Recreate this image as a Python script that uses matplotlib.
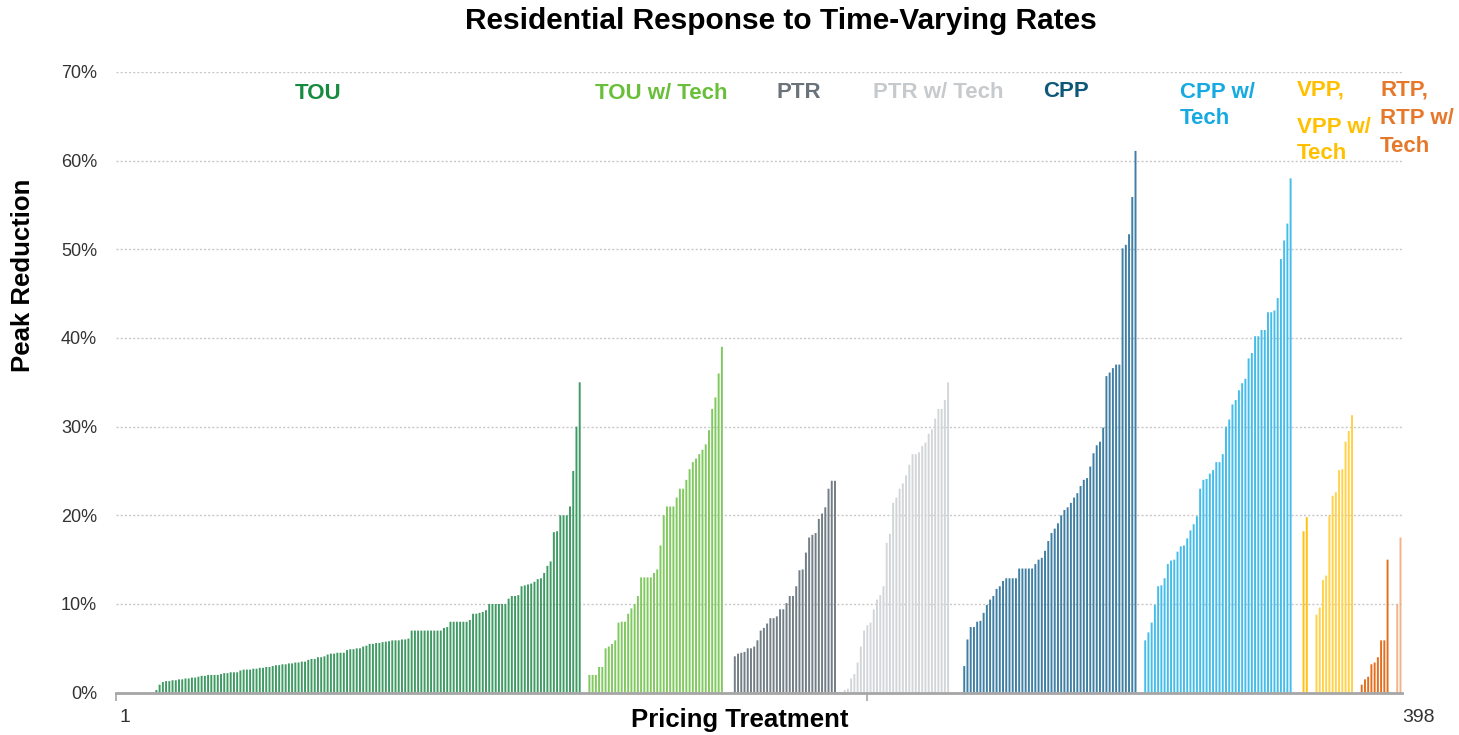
import matplotlib
matplotlib.use("Agg")
import matplotlib.pyplot as plt
import matplotlib.transforms as mtransforms
import numpy as np

plt.rcParams['font.family'] = ['Liberation Sans', 'DejaVu Sans']

# peak reduction (%) per pricing treatment, sorted inside each group
tou = [0, 0, 0, 0, 0, 0, 0, 0, 0, 0, 0, 0,
       0.3, 0.9, 1.2, 1.3, 1.3, 1.4, 1.4, 1.5, 1.5, 1.6, 1.6, 1.7, 1.7, 1.8,
       1.9, 1.9, 2.0, 2.0, 2.0, 2.0, 2.1, 2.2, 2.2, 2.3, 2.3, 2.3, 2.5, 2.6,
       2.6, 2.6, 2.7, 2.7, 2.8, 2.8, 2.9, 2.9, 3.0, 3.1, 3.1, 3.2, 3.2, 3.3,
       3.3, 3.4, 3.4, 3.5, 3.5, 3.7, 3.8, 3.8, 4.0, 4.0, 4.1, 4.3, 4.4, 4.4,
       4.5, 4.5, 4.5, 4.8, 4.9, 4.9, 5.0, 5.0, 5.2, 5.3, 5.5, 5.5, 5.6, 5.6,
       5.7, 5.75, 5.8, 5.9, 5.9, 5.9, 6.0, 6.0, 6.1,
       7.0, 7.0, 7.0, 7.0, 7.0, 7.0, 7.0, 7.0, 7.0, 7.0, 7.3, 7.4,
       8.0, 8.0, 8.0, 8.0, 8.0, 8.0, 8.2, 8.9, 8.9, 9.0, 9.1, 9.3,
       10.0, 10.0, 10.0, 10.0, 10.0, 10.0, 10.6, 10.9, 10.9, 11.0,
       12.0, 12.1, 12.2, 12.3, 12.5, 12.8, 12.9, 13.5, 14.3, 14.8,
       18.1, 18.2, 20.0, 20.0, 20.0, 21.0, 25.0, 30.0, 35.0]
tou_tech = [2.0, 2.0, 2.0, 2.9, 2.9, 5.0, 5.2, 5.5, 5.9, 7.9, 8.0, 8.0, 8.9,
            9.5, 10.0, 10.9, 13.0, 13.0, 13.0, 13.0, 13.5, 13.9, 16.6, 20.0,
            21.0, 21.0, 21.0, 22.0, 23.0, 23.0, 24.0, 25.2, 26.0, 26.4, 26.9,
            27.4, 28.0, 29.6, 32.0, 33.3, 36.0, 39.0]
ptr = [4.1, 4.4, 4.5, 4.6, 5.0, 5.0, 5.2, 5.9, 7.0, 7.3, 7.8, 8.4, 8.4, 8.6,
       9.4, 9.4, 10.1, 10.9, 10.9, 12.0, 13.8, 13.9, 15.8, 17.5, 17.8, 18.0,
       19.6, 20.2, 20.9, 23.0, 23.9, 23.9]
ptr_tech = [0.3, 0.45, 1.6, 2.1, 3.4, 5.2, 7.0, 7.6, 7.9, 9.4, 10.5, 11.0,
            12.0, 16.9, 17.9, 21.4, 22.0, 23.0, 23.6, 24.5, 25.7, 26.9, 26.9,
            27.1, 27.8, 28.2, 29.2, 29.7, 30.9, 32.0, 32.0, 33.0, 35.0]
cpp = [3.0, 6.0, 7.4, 7.4, 8.0, 8.1, 9.0, 9.9, 10.5, 10.9, 11.7, 12.0, 12.6,
       12.9, 12.9, 12.9, 12.9, 14.0, 14.0, 14.0, 14.0, 14.0, 14.5, 15.0, 15.2,
       16.0, 17.1, 18.0, 18.5, 19.1, 20.0, 20.6, 20.9, 21.4, 22.0, 22.5, 23.3,
       24.0, 24.2, 25.5, 27.0, 27.9, 28.3, 29.9, 35.7, 36.1, 36.6, 37.0, 37.0,
       50.1, 50.5, 51.7, 55.9, 61.1]
cpp_tech = [5.9, 6.8, 7.9, 9.9, 12.0, 12.1, 12.9, 14.5, 14.9, 15.0, 15.9,
            16.5, 16.6, 17.4, 18.3, 19.0, 19.9, 23.0, 24.0, 24.1, 24.7, 25.1,
            26.0, 26.0, 26.9, 30.0, 30.8, 32.5, 33.0, 34.1, 34.9, 35.4, 37.7,
            38.3, 40.2, 40.2, 40.9, 40.9, 42.9, 42.9, 43.1, 44.5, 48.9, 51.0,
            52.9, 58.0]
vpp = [18.2, 19.8]
vpp_tech = [8.8, 9.6, 12.7, 13.2, 20.0, 22.2, 22.6, 25.1, 25.2, 28.3, 29.5, 31.3]
rtp = [0.9, 1.5, 1.8, 3.2, 3.4, 4.0, 5.9, 5.9, 15.0]
rtp_tech = [10.0, 17.5]

# first treatment number of each group
starts = [1, 147, 192, 226, 263, 319, 368, 372, 386, 397]
groups = [tou, tou_tech, ptr, ptr_tech, cpp, cpp_tech, vpp, vpp_tech, rtp, rtp_tech]
colors = ['#3f9a63', '#80c95f', '#737d85', '#d3d6d8', '#3f7fa3', '#45bdea',
          '#ffc20e', '#ffd24a', '#e36f1e', '#f1b38a']

fig = plt.figure(figsize=(14.59, 7.35), dpi=100)
ax = fig.add_axes([0.0795, 0.0576, 0.8815, 0.8445])

for s, vals, c in zip(starts, groups, colors):
    x = np.arange(s, s + len(vals))
    ax.bar(x, vals, width=0.6, color=c, linewidth=0, snap=False, zorder=3)

ax.set_xlim(0.5, 398.5)
ax.set_ylim(0, 70)
ax.set_yticks(np.arange(0, 71, 10))
ax.set_yticklabels([f'{v}%' for v in range(0, 71, 10)], fontsize=13, color='#333333')
ax.tick_params(axis='y', length=0, pad=13.5)
ax.set_xticks([0.5, 232.9])
ax.set_xticklabels([])
ax.tick_params(axis='x', length=6, width=1.2, color='#a6a6a6', direction='out')
ax.yaxis.grid(True, linestyle=(0, (1.5, 1.5)), color='#c8c8c8', linewidth=1, zorder=0)
for side in ['top', 'right', 'left']:
    ax.spines[side].set_visible(False)
ax.spines['bottom'].set_color('#a6a6a6')
ax.spines['bottom'].set_linewidth(2)
ax.spines['bottom'].set_zorder(4)

trans = mtransforms.blended_transform_factory(ax.transData, ax.transAxes)
ax.text(3.3, -0.04, '1', transform=trans, ha='center', va='center', fontsize=14, color='#333333')
ax.text(403.5, -0.04, '398', transform=trans, ha='center', va='center', fontsize=14, color='#333333')

# group labels
lab_kw = dict(fontsize=16, fontweight='bold', ha='left', va='center')
ax.text(55.9, 67.6, 'TOU', color='#168a3f', **lab_kw)
ax.text(148.7, 67.6, 'TOU w/ Tech', color='#6abf3a', **lab_kw)
ax.text(205, 67.7, 'PTR', color='#6b737a', **lab_kw)
ax.text(234.8, 67.7, 'PTR w/ Tech', color='#c7cacc', **lab_kw)
ax.text(287.4, 67.8, 'CPP', color='#0d5878', **lab_kw)
ax.text(329.8, 66.2, 'CPP w/\nTech', color='#17a9e1', linespacing=1.3, **lab_kw)
ax.text(366.0, 68.0, 'VPP,', color='#ffc000', **lab_kw)
ax.text(366.0, 62.3, 'VPP w/\nTech', color='#ffc000', linespacing=1.3, **lab_kw)
ax.text(391.7, 64.8, 'RTP,\nRTP w/\nTech', color='#e5782a', linespacing=1.45, **lab_kw)

fig.text(0.535, 0.972, 'Residential Response to Time-Varying Rates',
         ha='center', va='center', fontsize=21.5, fontweight='bold')
fig.text(0.507, 0.02, 'Pricing Treatment', ha='center', va='center',
         fontsize=18.5, fontweight='bold')
fig.text(0.016, 0.626, 'Peak Reduction', ha='center', va='center',
         fontsize=18.5, fontweight='bold', rotation=90)

fig.savefig('out.png', dpi=100)
